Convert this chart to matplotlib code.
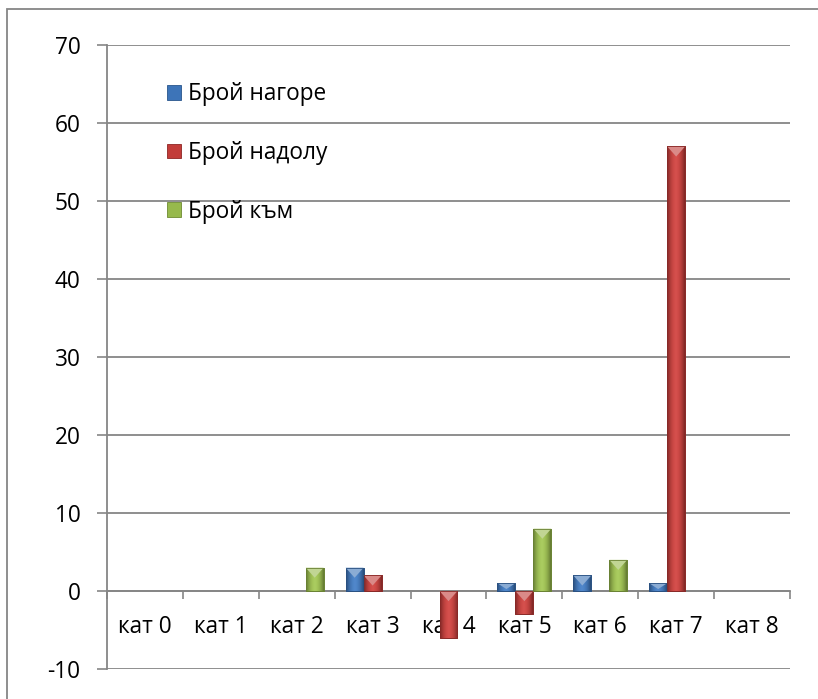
import matplotlib
matplotlib.use("Agg")
import matplotlib.pyplot as plt
import numpy as np
from matplotlib.patches import Rectangle, Polygon
from matplotlib.colors import to_rgb

plt.rcParams['font.family'] = ['Open Sans', 'DejaVu Sans']

categories = ["кат 0", "кат 1", "кат 2", "кат 3", "кат 4", "кат 5", "кат 6", "кат 7", "кат 8"]
series_names = ["Брой нагоре", "Брой надолу", "Брой към"]
up_vals = [0, 0, 0, 3, 0, 1, 2, 1, 0]
down_vals = [0, 0, 0, 2, -6, -3, 0, 57, 0]
toward_vals = [0, 0, 3, 0, 0, 8, 4, 0, 0]
y_ticks = [-10, 0, 10, 20, 30, 40, 50, 60, 70]

colors = ["#3d74b8", "#c23c39", "#97b94c"]
edge_colors = ["#28558c", "#8e2523", "#6d8a30"]

FS = 16.3

W, H = 818, 699
fig = plt.figure(figsize=(W / 100, H / 100), dpi=100)
ax = fig.add_axes([107 / W, 1 - 669 / H, (790 - 107) / W, (669 - 45) / H])

# outer border (only left/top visible, as in reference)
fig.patches.append(Rectangle((7 / W, -0.2), 1.5, 1 - 9 / H + 0.2, transform=fig.transFigure,
                             fill=False, edgecolor="#868686", lw=1.3))

x = np.arange(len(categories))
bw = 0.237
all_series = [up_vals, down_vals, toward_vals]


def lighten(c, f):
    r = np.array(to_rgb(c))
    return tuple(r + (1 - r) * f)


def darken(c, f):
    r = np.array(to_rgb(c))
    return tuple(r * (1 - f))


for i, vals in enumerate(all_series):
    offs = (i - 1) * bw
    vals_arr = np.array(vals, dtype=float)
    bars = ax.bar(x + offs, vals_arr, width=bw, color=colors[i], edgecolor=edge_colors[i],
                  linewidth=0.6, zorder=3, label=series_names[i])
    for b, v in zip(bars, vals_arr):
        if v == 0:
            b.set_visible(False)
            continue
        bx, by, bwid, bh = b.get_x(), b.get_y(), b.get_width(), b.get_height()
        y0, y1 = min(by, by + bh), max(by, by + bh)
        t = np.linspace(-1, 1, 60)
        base = np.array(to_rgb(colors[i]))
        prof = 1 - 0.35 * np.abs(t) ** 2.2
        grad = np.clip(base[None, :] * prof[:, None] + 0.08 * (1 - np.abs(t))[:, None], 0, 1)
        im = ax.imshow(grad[None, :, :], extent=[bx, bx + bwid, y0, y1], aspect='auto',
                       zorder=3.1, interpolation='bilinear')
        im.set_clip_path(b)
        th = min(1.3, (y1 - y0) * 0.75)
        tri = Polygon([[bx, y1], [bx + bwid, y1], [bx + bwid / 2, y1 - th]], closed=True,
                      facecolor=lighten(colors[i], 0.4), edgecolor='none', zorder=3.2)
        ax.add_patch(tri)
        ax.add_patch(Rectangle((bx, y0), bwid, y1 - y0, fill=False,
                               edgecolor=darken(colors[i], 0.3), lw=0.6, zorder=3.3))

ax.set_xlim(-0.5, len(categories) - 0.5)
ax.set_ylim(-10, 70)
ax.set_yticks(y_ticks)
ax.set_yticklabels([str(v) for v in y_ticks])

ax.set_xticks(np.arange(len(categories) + 1) - 0.5, minor=True)
ax.set_xticks(x)
ax.set_xticklabels(categories)
ax.tick_params(axis='x', which='major', length=0, pad=17, labelsize=FS)
ax.tick_params(axis='x', which='minor', length=6, width=1.2, color="#868686", direction='out')
ax.tick_params(axis='y', length=7, width=1.2, color="#868686", pad=12, labelsize=FS)

for s in ['top', 'right']:
    ax.spines[s].set_visible(False)
ax.spines['bottom'].set_position(('data', 0))
ax.spines['bottom'].set_color("#868686")
ax.spines['bottom'].set_linewidth(1.3)
ax.spines['bottom'].set_zorder(2.5)
ax.spines['left'].set_color("#868686")
ax.spines['left'].set_linewidth(1.3)

ax.yaxis.grid(True, color="#868686", lw=1.3)
ax.set_axisbelow(True)

handles = [Rectangle((0, 0), 1, 1, facecolor=colors[i], edgecolor=edge_colors[i], lw=0.6)
           for i in range(3)]
leg = ax.legend(handles, series_names, loc='upper left', bbox_to_anchor=(0.088, 0.94),
                frameon=False, fontsize=FS, handlelength=0.62, handleheight=0.62,
                handletextpad=0.3, labelspacing=1.53, borderpad=0, borderaxespad=0)
leg.set_zorder(1)

fig.savefig("out.png", dpi=100)
